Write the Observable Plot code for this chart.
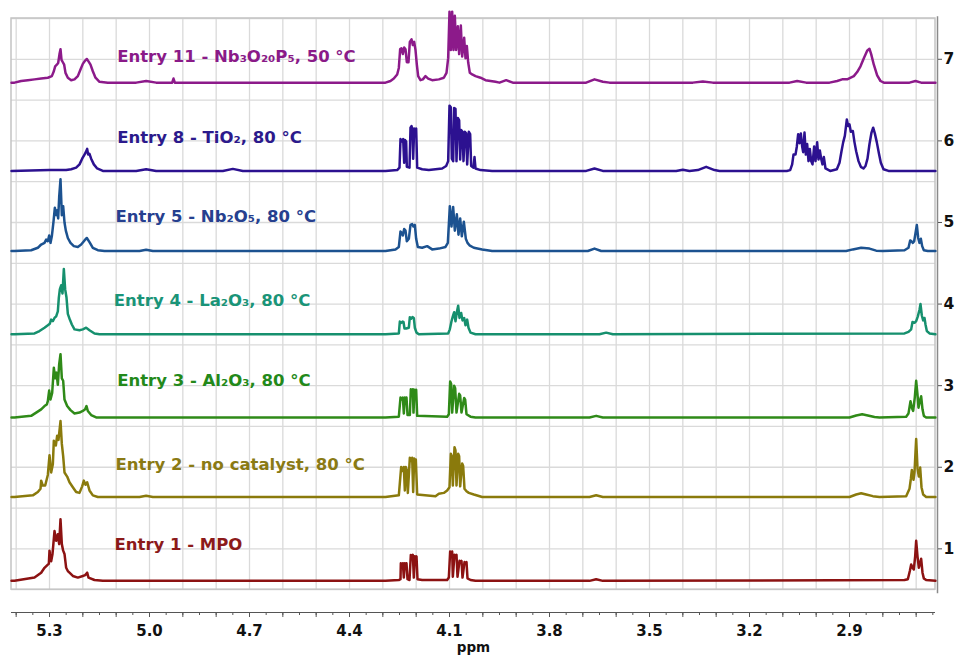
<!DOCTYPE html>
<html><head><meta charset="utf-8">
<script src="https://cdn.jsdelivr.net/npm/d3@7"></script>
<script src="https://cdn.jsdelivr.net/npm/@observablehq/plot@0.6"></script>
<style>html,body{margin:0;padding:0;background:#fff} svg{display:block}</style>
</head><body><div id="chart"></div>
<script>
// ---- Data (ppm, intensity above each trace's baseline) ----
const entryNames = ["Entry 1", "Entry 2", "Entry 3", "Entry 4", "Entry 5", "Entry 8", "Entry 11"];
const labelTexts = ["Entry 1 - MPO", "Entry 2 - no catalyst, 80 °C", "Entry 3 - Al₂O₃, 80 °C", "Entry 4 - La₂O₃, 80 °C", "Entry 5 - Nb₂O₅, 80 °C", "Entry 8 - TiO₂, 80 °C", "Entry 11 - Nb₃O₂₀P₅, 50 °C"];
const baselines = [0.608, 1.636, 2.61, 3.63, 4.65, 5.632, 6.714];
const labelPpm = [5.105, 5.102, 5.097, 5.107, 5.102, 5.097, 5.097];
const labelY = [1.055, 2.03, 3.06, 4.04, 5.07, 6.04, 7.03];
const xTickLabels = [5.3, 5.0, 4.7, 4.4, 4.1, 3.8, 3.5, 3.2, 2.9];
const yTicks = [1, 2, 3, 4, 5, 6, 7];

const spec1 = [[5.414,0],[5.405,0],[5.345,0.04],[5.325,0.10],[5.315,0.16],[5.305,0.20],[5.302,0.21],[5.300,0.37],[5.295,0.24],[5.291,0.33],[5.285,0.61],[5.280,0.49],[5.275,0.57],[5.271,0.45],[5.267,0.755],[5.263,0.45],[5.259,0.37],[5.255,0.33],[5.250,0.16],[5.245,0.12],[5.240,0.10],[5.230,0.06],[5.215,0.04],[5.200,0.06],[5.193,0.07],[5.187,0.10],[5.183,0.04],[5.165,0.01],[5.140,0],
[4.292,0],[4.252,0.01],[4.247,0.02],[4.246,0.216],[4.243,0.19],[4.240,0.216],[4.237,0.04],[4.234,0.216],[4.231,0.19],[4.229,0.216],[4.226,0.02],[4.220,0.01],[4.216,0.318],[4.213,0.29],[4.210,0.318],[4.207,0.04],[4.204,0.30],[4.201,0.27],[4.199,0.30],[4.196,0.02],[4.182,0.01],[4.107,0.01],[4.102,0.04],[4.098,0.36],[4.095,0.33],[4.092,0.36],[4.090,0.05],[4.085,0.32],[4.082,0.30],[4.079,0.32],[4.076,0.05],[4.070,0.245],[4.067,0.23],[4.064,0.245],[4.061,0.04],[4.055,0.23],[4.052,0.21],[4.049,0.23],[4.046,0.03],[4.037,0.01],[4.022,0],
[3.68,0],[3.66,0.02],[3.64,0],
[2.735,0.01],[2.725,0.02],[2.719,0.12],[2.715,0.20],[2.711,0.16],[2.707,0.14],[2.703,0.30],[2.700,0.49],[2.696,0.30],[2.692,0.16],[2.688,0.22],[2.685,0.27],[2.681,0.10],[2.677,0.03],[2.670,0.01],[2.642,0]];

const spec2 = [[5.414,0],[5.405,0],[5.350,0.02],[5.335,0.06],[5.327,0.10],[5.325,0.20],[5.320,0.14],[5.313,0.14],[5.305,0.27],[5.300,0.51],[5.295,0.30],[5.290,0.40],[5.287,0.69],[5.281,0.63],[5.277,0.75],[5.273,0.70],[5.267,0.93],[5.263,0.65],[5.259,0.50],[5.255,0.30],[5.247,0.25],[5.240,0.18],[5.230,0.12],[5.220,0.06],[5.210,0.05],[5.202,0.13],[5.197,0.20],[5.192,0.15],[5.187,0.18],[5.180,0.08],[5.170,0.02],[5.155,0],
[5.03,0],[5.01,0.015],[4.99,0],
[4.292,0],[4.252,0.02],[4.245,0.367],[4.241,0.32],[4.237,0.367],[4.234,0.08],[4.231,0.367],[4.228,0.33],[4.225,0.05],[4.219,0.48],[4.215,0.44],[4.212,0.48],[4.209,0.06],[4.206,0.47],[4.203,0.43],[4.201,0.46],[4.197,0.03],[4.142,0.01],[4.132,0.04],[4.117,0.05],[4.107,0.08],[4.100,0.12],[4.096,0.53],[4.093,0.50],[4.090,0.14],[4.085,0.61],[4.082,0.57],[4.079,0.14],[4.074,0.53],[4.071,0.50],[4.068,0.13],[4.062,0.41],[4.059,0.38],[4.055,0.10],[4.049,0.07],[4.042,0.05],[4.027,0.03],[4.002,0],
[3.68,0],[3.66,0.02],[3.64,0],
[2.90,0],[2.88,0.03],[2.865,0.045],[2.85,0.03],[2.83,0.01],[2.81,0],
[2.730,0.01],[2.720,0.10],[2.716,0.22],[2.713,0.33],[2.708,0.21],[2.705,0.30],[2.702,0.55],[2.700,0.71],[2.696,0.35],[2.692,0.25],[2.688,0.36],[2.684,0.12],[2.679,0.03],[2.670,0],[2.642,0]];

const spec3 = [[5.414,0],[5.405,0],[5.355,0.02],[5.340,0.06],[5.325,0.10],[5.315,0.14],[5.308,0.16],[5.305,0.20],[5.301,0.33],[5.297,0.22],[5.292,0.30],[5.287,0.61],[5.283,0.48],[5.279,0.55],[5.275,0.40],[5.271,0.65],[5.267,0.776],[5.263,0.48],[5.259,0.45],[5.255,0.22],[5.247,0.14],[5.237,0.09],[5.225,0.05],[5.210,0.06],[5.200,0.08],[5.193,0.10],[5.189,0.14],[5.185,0.08],[5.175,0.03],[5.160,0],
[4.292,0],[4.252,0.01],[4.247,0.245],[4.243,0.22],[4.240,0.245],[4.237,0.05],[4.234,0.245],[4.231,0.22],[4.229,0.245],[4.226,0.03],[4.219,0.03],[4.216,0.347],[4.213,0.32],[4.210,0.347],[4.208,0.06],[4.205,0.34],[4.202,0.31],[4.200,0.34],[4.197,0.02],[4.107,0.01],[4.102,0.04],[4.098,0.44],[4.095,0.41],[4.092,0.06],[4.086,0.39],[4.083,0.36],[4.079,0.06],[4.071,0.29],[4.068,0.27],[4.064,0.06],[4.056,0.24],[4.053,0.22],[4.049,0.04],[4.037,0.01],[4.022,0],
[3.68,0],[3.66,0.02],[3.64,0],
[2.90,0],[2.88,0.025],[2.862,0.04],[2.845,0.025],[2.825,0.005],[2.81,0],
[2.730,0.01],[2.723,0.05],[2.717,0.20],[2.713,0.12],[2.709,0.08],[2.704,0.25],[2.700,0.45],[2.696,0.28],[2.693,0.12],[2.688,0.22],[2.685,0.26],[2.681,0.10],[2.677,0.02],[2.670,0],[2.642,0]];

const spec4 = [[5.414,0],[5.405,0],[5.345,0.01],[5.330,0.04],[5.315,0.08],[5.305,0.11],[5.299,0.13],[5.295,0.18],[5.290,0.16],[5.285,0.20],[5.280,0.22],[5.275,0.28],[5.272,0.45],[5.269,0.55],[5.265,0.60],[5.261,0.50],[5.257,0.80],[5.253,0.55],[5.249,0.45],[5.245,0.25],[5.239,0.18],[5.233,0.12],[5.225,0.06],[5.210,0.05],[5.200,0.06],[5.190,0.08],[5.180,0.05],[5.165,0.01],[5.150,0],
[4.292,0],[4.252,0.01],[4.249,0.155],[4.245,0.14],[4.241,0.155],[4.238,0.15],[4.235,0.07],[4.230,0.07],[4.222,0.08],[4.219,0.21],[4.215,0.19],[4.211,0.21],[4.207,0.20],[4.204,0.08],[4.199,0.02],[4.192,0],[4.104,0.01],[4.099,0.06],[4.094,0.16],[4.090,0.22],[4.086,0.27],[4.082,0.16],[4.078,0.27],[4.074,0.35],[4.070,0.20],[4.065,0.26],[4.061,0.17],[4.056,0.20],[4.052,0.11],[4.047,0.18],[4.043,0.08],[4.037,0.02],[4.022,0],
[3.65,0],[3.63,0.02],[3.61,0],
[2.735,0.01],[2.723,0.03],[2.715,0.06],[2.711,0.15],[2.705,0.14],[2.700,0.16],[2.695,0.22],[2.690,0.30],[2.687,0.37],[2.683,0.23],[2.679,0.17],[2.675,0.20],[2.672,0.12],[2.668,0.04],[2.660,0.01],[2.642,0]];

const spec5 = [[5.414,0],[5.405,0],[5.355,0.01],[5.335,0.04],[5.325,0.08],[5.315,0.10],[5.310,0.14],[5.305,0.12],[5.301,0.19],[5.297,0.10],[5.293,0.18],[5.288,0.36],[5.284,0.53],[5.280,0.44],[5.277,0.50],[5.274,0.40],[5.271,0.66],[5.267,0.88],[5.263,0.44],[5.259,0.55],[5.255,0.35],[5.251,0.25],[5.245,0.16],[5.237,0.10],[5.227,0.06],[5.215,0.05],[5.205,0.08],[5.195,0.13],[5.188,0.16],[5.180,0.11],[5.170,0.04],[5.155,0.01],[5.135,0],
[5.03,0],[5.01,0.015],[4.99,0],
[4.292,0],[4.262,0.02],[4.252,0.05],[4.247,0.24],[4.243,0.22],[4.240,0.19],[4.236,0.27],[4.232,0.25],[4.228,0.12],[4.222,0.15],[4.217,0.32],[4.212,0.33],[4.208,0.30],[4.204,0.32],[4.200,0.15],[4.195,0.05],[4.182,0.04],[4.167,0.06],[4.152,0.02],[4.132,0.03],[4.112,0.05],[4.105,0.10],[4.099,0.55],[4.094,0.30],[4.089,0.54],[4.084,0.25],[4.078,0.45],[4.073,0.20],[4.068,0.40],[4.063,0.18],[4.057,0.36],[4.051,0.15],[4.046,0.10],[4.040,0.07],[4.027,0.04],[4.002,0.02],[3.972,0],
[3.685,0],[3.665,0.03],[3.645,0],
[2.91,0],[2.89,0.02],[2.865,0.04],[2.84,0.03],[2.82,0.005],[2.80,0],
[2.735,0.01],[2.723,0.04],[2.718,0.13],[2.714,0.12],[2.710,0.10],[2.706,0.12],[2.702,0.22],[2.698,0.32],[2.694,0.16],[2.690,0.10],[2.686,0.15],[2.682,0.06],[2.677,0.01],[2.665,0],[2.642,0]];

const spec8 = [[5.414,0],[5.300,0.01],[5.250,0.01],[5.235,0.02],[5.220,0.04],[5.210,0.08],[5.202,0.15],[5.195,0.20],[5.191,0.23],[5.187,0.27],[5.184,0.20],[5.180,0.21],[5.175,0.15],[5.167,0.08],[5.157,0.03],[5.140,0],
[5.04,0],[5.01,0.02],[4.98,0],[4.78,0],[4.75,0.025],[4.72,0],
[4.292,0],[4.257,0.01],[4.250,0.04],[4.247,0.39],[4.243,0.36],[4.239,0.39],[4.236,0.10],[4.234,0.38],[4.230,0.36],[4.228,0.05],[4.220,0.04],[4.217,0.53],[4.214,0.55],[4.211,0.50],[4.209,0.15],[4.206,0.52],[4.203,0.50],[4.200,0.52],[4.197,0.04],[4.182,0.02],[4.162,0.01],[4.142,0.02],[4.122,0.03],[4.110,0.06],[4.104,0.12],[4.100,0.80],[4.096,0.78],[4.093,0.15],[4.089,0.12],[4.086,0.77],[4.082,0.76],[4.079,0.12],[4.075,0.65],[4.071,0.62],[4.068,0.14],[4.065,0.50],[4.061,0.48],[4.058,0.12],[4.054,0.48],[4.050,0.46],[4.047,0.08],[4.042,0.48],[4.038,0.45],[4.035,0.06],[4.028,0.04],[4.025,0.17],[4.022,0.03],[4.007,0.01],[3.972,0],
[3.69,0],[3.665,0.03],[3.64,0],[3.42,0],[3.40,0.015],[3.38,0],[3.355,0.01],[3.33,0.05],[3.305,0.01],[3.29,0],
[3.088,0],[3.078,0.01],[3.072,0.08],[3.068,0.20],[3.062,0.20],[3.058,0.30],[3.054,0.45],[3.050,0.34],[3.046,0.46],[3.042,0.30],[3.039,0.23],[3.035,0.47],[3.031,0.20],[3.027,0.33],[3.023,0.12],[3.019,0.27],[3.015,0.12],[3.011,0.08],[3.006,0.30],[3.002,0.12],[2.997,0.35],[2.993,0.14],[2.989,0.25],[2.985,0.15],[2.981,0.08],[2.977,0.17],[2.972,0.03],[2.958,0],[2.938,0.02],[2.930,0.10],[2.924,0.24],[2.919,0.35],[2.914,0.43],[2.908,0.63],[2.904,0.55],[2.900,0.57],[2.896,0.48],[2.890,0.49],[2.885,0.35],[2.880,0.24],[2.873,0.12],[2.866,0.05],[2.858,0.03],[2.852,0.06],[2.846,0.15],[2.840,0.33],[2.834,0.47],[2.829,0.53],[2.824,0.46],[2.818,0.35],[2.812,0.22],[2.806,0.10],[2.798,0.02],[2.783,0],[2.642,0]];

const spec11 = [[5.414,0],[5.405,0],[5.385,0.02],[5.365,0.03],[5.345,0.04],[5.325,0.05],[5.305,0.06],[5.293,0.08],[5.287,0.14],[5.283,0.20],[5.278,0.22],[5.274,0.24],[5.270,0.35],[5.267,0.41],[5.264,0.28],[5.260,0.25],[5.256,0.22],[5.252,0.12],[5.245,0.06],[5.235,0.03],[5.225,0.04],[5.215,0.08],[5.207,0.16],[5.200,0.23],[5.193,0.27],[5.188,0.29],[5.183,0.26],[5.177,0.22],[5.170,0.14],[5.162,0.06],[5.150,0.01],[5.125,0],
[5.04,0],[5.01,0.02],[4.98,0],[4.932,0],[4.928,0.05],[4.924,0],
[4.292,0],[4.277,0.02],[4.267,0.05],[4.257,0.10],[4.252,0.18],[4.248,0.41],[4.244,0.42],[4.240,0.35],[4.236,0.43],[4.232,0.41],[4.228,0.25],[4.223,0.25],[4.219,0.50],[4.214,0.53],[4.210,0.46],[4.206,0.50],[4.202,0.40],[4.198,0.22],[4.194,0.08],[4.187,0.03],[4.180,0.04],[4.172,0.08],[4.164,0.05],[4.152,0.03],[4.132,0.04],[4.117,0.06],[4.109,0.12],[4.104,0.30],[4.100,0.87],[4.096,0.40],[4.092,0.87],[4.088,0.40],[4.084,0.82],[4.080,0.40],[4.075,0.69],[4.071,0.35],[4.066,0.70],[4.062,0.32],[4.056,0.55],[4.052,0.30],[4.048,0.45],[4.044,0.25],[4.039,0.12],[4.032,0.10],[4.022,0.08],[4.007,0.06],[3.992,0.03],[3.962,0.01],[3.950,0],[3.93,0.03],[3.91,0],
[3.69,0],[3.665,0.04],[3.64,0.01],[3.62,0],
[3.37,0],[3.34,0.015],[3.31,0],[3.08,0],[3.057,0.02],[3.03,0],
[2.96,0],[2.937,0.02],[2.922,0.04],[2.907,0.04],[2.887,0.08],[2.877,0.13],[2.867,0.20],[2.857,0.30],[2.847,0.39],[2.840,0.415],[2.835,0.35],[2.827,0.22],[2.817,0.09],[2.807,0.02],[2.797,0],
[2.72,0],[2.702,0.02],[2.685,0],[2.642,0]];

const spectra = [spec1, spec2, spec3, spec4, spec5, spec8, spec11];

// ---- Styles ----
const lineColors = ["#8c1212", "#8a7a0c", "#2f8a18", "#16906e", "#1c5290", "#2c1190", "#8c1a8a"];
const labelColors = ["#8c1a1a", "#8a7a14", "#23891a", "#1a9478", "#26408f", "#2c1a8c", "#8a1a88"];

const xDom = [5.414, 2.642];
const gridX = d3.range(54, 26, -1).map(v => +(v / 10).toFixed(1));
const gridY = d3.range(1, 16).map(v => v / 2);
const minorTicks = d3.range(108, 52, -1).map(v => +(v / 20).toFixed(2));
const majorTicks = gridX;

const rows = [];
spectra.forEach((s, i) => s.forEach(([ppm, h]) => rows.push({entry: entryNames[i], ppm, y: baselines[i] + h})));

const labelMarks = labelTexts.map((t, i) =>
  Plot.text([{x: labelPpm[i], y: labelY[i], t}], {x: "x", y: "y", text: "t", fill: labelColors[i], textAnchor: "start", fontSize: 16.5, fontWeight: "bold"}));

const chart = Plot.plot({
  width: 956, height: 658,
  marginLeft: 11, marginRight: 21, marginTop: 18, marginBottom: 46,
  style: {fontFamily: "'DejaVu Sans', Verdana, sans-serif", fontWeight: "bold", background: "#fff", overflow: "visible"},
  x: {domain: xDom},
  y: {domain: [0.22, 7.5]},
  color: {domain: entryNames, range: lineColors},
  marks: [
    Plot.ruleX(gridX, {y1: 0.5, y2: 7.5, stroke: "#dadada", strokeWidth: 1.3}),
    Plot.ruleY(gridY, {x1: xDom[0], x2: xDom[1], stroke: "#dadada", strokeWidth: 1.3}),
    Plot.rect([0], {x1: xDom[0], x2: xDom[1], y1: 0.5, y2: 7.5, fill: "none", stroke: "#c4c4c4", strokeWidth: 1.5}),
    Plot.line(rows, {x: "ppm", y: "y", z: "entry", stroke: "entry", strokeWidth: 2.5}),
    ...labelMarks,
    Plot.ruleY([0.22], {x1: xDom[0], x2: xDom[1], stroke: "#555", strokeWidth: 1.2}),
    Plot.axisX({ticks: minorTicks, tickSize: 3, tickFormat: () => "", label: null, stroke: "#555"}),
    Plot.axisX({ticks: majorTicks, tickSize: 5, tickFormat: () => "", label: null, stroke: "#555"}),
    Plot.axisX({ticks: xTickLabels, tickSize: 0, tickPadding: 13, tickFormat: d3.format(".1f"), fontSize: 15, label: null, fill: "#111"}),
    Plot.text(["ppm"], {text: d => d, frameAnchor: "bottom", dy: 39, fontSize: 13.5, fill: "#111"}),
    Plot.ruleX([xDom[1]], {y1: 0.45, y2: 7.52, dx: 2, stroke: "#8a8a8a", strokeWidth: 1.5}),
    Plot.axisY({anchor: "right", ticks: yTicks, tickSize: 4, tickPadding: 2, dx: 2, fontSize: 15.5, label: null, fill: "#111", stroke: "#555"})
  ]
});
document.getElementById("chart").append(chart);
</script>
</body></html>
